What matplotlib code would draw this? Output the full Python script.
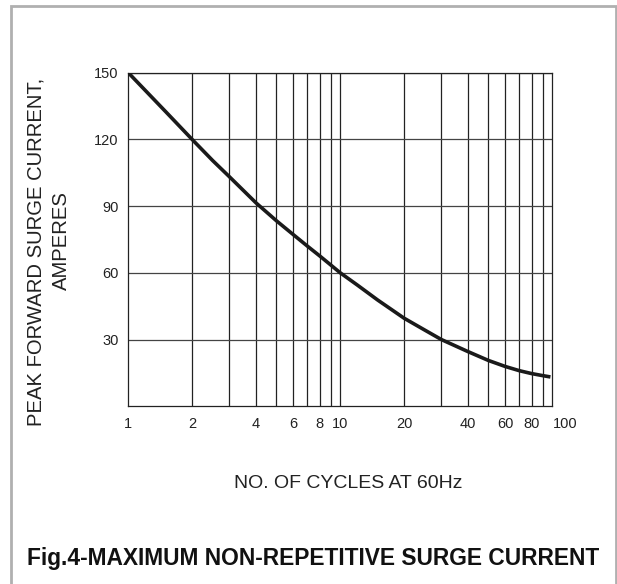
import matplotlib
matplotlib.use("Agg")
import matplotlib.pyplot as plt
import matplotlib.transforms as mtransforms
from matplotlib.patches import Rectangle

plt.rcParams["font.family"] = ["Liberation Sans", "DejaVu Sans"]

# curve (cycles, amperes)
cycles = [1, 1.5, 2, 2.5, 3, 4, 5, 6, 7, 8, 9, 10, 12, 15, 20, 25, 30, 40, 50, 60, 70, 80, 90, 98]
amperes = [150, 132.5, 120, 110.5, 103.2, 91.5, 83.4, 77.2, 72, 67.6, 63.6, 60, 54.6, 47.8,
           39.6, 34.3, 30, 24.6, 20.6, 17.9, 16.0, 14.7, 13.8, 13.2]

x_ticks = [1, 2, 4, 6, 8, 10, 20, 40, 60, 80, 100]
x_tick_labels = ["1", "2", "4", "6", "8", "10", "20", "40", "60", "80", "100"]
y_ticks = [30, 60, 90, 120, 150]

fig = plt.figure(figsize=(6.17, 5.84), dpi=100)
ax = fig.add_axes([128.3 / 617, 1 - 406.3 / 584, (552.3 - 128.3) / 617, (406.3 - 72.7) / 584])

ink = "#222222"
ax.plot(cycles, amperes, color="#1a1a1a", linewidth=2.6, solid_capstyle="butt",
        solid_joinstyle="round", zorder=3)

ax.set_xscale("log")
ax.set_xlim(1, 100)
ax.set_ylim(0, 150)

# grid: every minor log step vertically, every 30 A horizontally
for dec in (1, 10):
    for k in range(2, 10):
        ax.axvline(dec * k, color=ink, linewidth=0.9, zorder=1)
ax.axvline(10, color=ink, linewidth=0.9, zorder=1)
for y in y_ticks:
    ax.axhline(y, color="#444444", linewidth=0.9, zorder=1)

for side in ("left", "right", "top", "bottom"):
    ax.spines[side].set_color(ink)
    ax.spines[side].set_linewidth(0.9)

ax.set_xticks(x_ticks)
ax.set_xticklabels(x_tick_labels)
ax.xaxis.set_minor_locator(matplotlib.ticker.NullLocator())
ax.set_yticks(y_ticks)
ax.tick_params(axis="both", length=0, labelsize=10.5, colors="#222222")
ax.tick_params(axis="x", pad=8)
ax.tick_params(axis="y", pad=7)

# the "100" label sits to the right of the last grid line
offset = mtransforms.ScaledTranslation(13 / 100, 0, fig.dpi_scale_trans)
last = ax.get_xticklabels()[-1]
last.set_transform(last.get_transform() + offset)

fig.text(36 / 617, 1 - 252 / 584, "PEAK FORWARD SURGE CURRENT,", rotation=90,
         ha="center", va="center", fontsize=14.6, color="#222222")
fig.text(61 / 617, 1 - 241 / 584, "AMPERES", rotation=90,
         ha="center", va="center", fontsize=14.6, color="#222222")

fig.text(348 / 617, 1 - 484 / 584, "NO. OF CYCLES AT 60Hz",
         ha="center", va="center", fontsize=14, color="#222222")

fig.text(313 / 617, 1 - 558 / 584, "Fig.4-MAXIMUM NON-REPETITIVE SURGE CURRENT",
         ha="center", va="center", fontsize=16.4, fontweight="bold", color="#111111")

# light grey frame around the figure
fig.patches.append(Rectangle((11 / 617, -0.05), (616 - 11) / 617, 1.05 - 6 / 584,
                             transform=fig.transFigure, fill=False,
                             edgecolor="#b0b0b0", linewidth=2))

fig.savefig("out.png", dpi=100)
